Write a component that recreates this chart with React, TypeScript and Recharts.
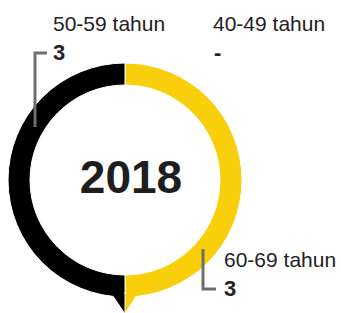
import { PieChart, Pie, Cell } from "recharts";

const categories = ["60-69 tahun", "40-49 tahun", "50-59 tahun"];
const values = [3, 0, 3];
const valueLabels = ["3", "-", "3"];
const year = "2018";

const COLORS = ["#F9CE0B", "#F9CE0B", "#000000"];
const FONT = "'Liberation Sans', Arial, sans-serif";
const LINE = "#6e6e6e";

const data = categories.map((name, i) => ({ name, value: values[i] }));

const App = () => {
  return (
    <div style={{ position: "absolute", left: 0, top: 0, width: 341, height: 313, background: "#fff" }}>
      <PieChart
        width={341}
        height={313}
        margin={{ top: 0, right: 0, bottom: 0, left: 0 }}
        style={{ position: "absolute", left: 0, top: 0 }}
      >
        <Pie
          data={data}
          dataKey="value"
          cx={125}
          cy={180}
          innerRadius={95}
          outerRadius={117}
          startAngle={90}
          endAngle={-270}
          stroke="#ffffff"
          strokeWidth={1}
          isAnimationActive={false}
        >
          {data.map((d, i) => (
            <Cell key={d.name} fill={COLORS[i]} />
          ))}
        </Pie>
      </PieChart>
      <svg width={341} height={313} style={{ position: "absolute", left: 0, top: 0 }}>
        {/* speech bubble pointer */}
        <polygon points="112,294 125,294 125,313" fill={COLORS[2]} />
        <polygon points="125,294 137,294 125,313" fill={COLORS[0]} />
        <line x1={125} y1={292} x2={125} y2={313} stroke="#fff" strokeWidth={1} />

        <text x={131} y={193} textAnchor="middle" fontFamily={FONT} fontWeight="bold" fontSize={46} fill="#1e1e1e">
          {year}
        </text>

        {/* 50-59 */}
        <polyline points="47,53 35,53 35,127" fill="none" stroke={LINE} strokeWidth={3} />
        <text x={53} y={31} fontFamily={FONT} fontSize={21} fill="#222">{categories[2]}</text>
        <text x={53} y={60} fontFamily={FONT} fontWeight="bold" fontSize={22} fill="#222">{valueLabels[2]}</text>

        {/* 40-49 */}
        <text x={213} y={31} fontFamily={FONT} fontSize={21} fill="#222">{categories[1]}</text>
        <text x={214} y={60} fontFamily={FONT} fontWeight="bold" fontSize={22} fill="#222">{valueLabels[1]}</text>

        {/* 60-69 */}
        <polyline points="203,249 203,289 216,289" fill="none" stroke={LINE} strokeWidth={3} />
        <text x={224} y={267} fontFamily={FONT} fontSize={21} fill="#222">{categories[0]}</text>
        <text x={224} y={296} fontFamily={FONT} fontWeight="bold" fontSize={22} fill="#222">{valueLabels[0]}</text>
      </svg>
    </div>
  );
};

export default App;
